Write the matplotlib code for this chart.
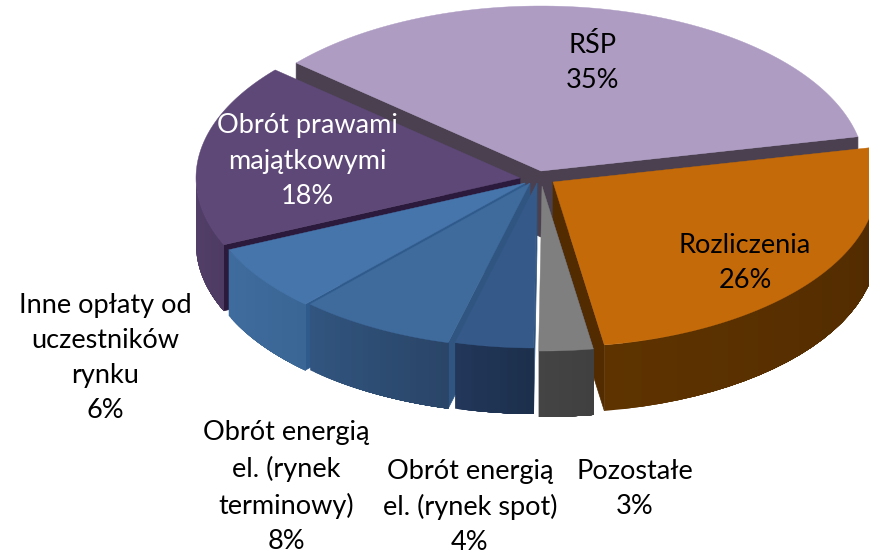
import numpy as np
import matplotlib
matplotlib.use('Agg')
import matplotlib.pyplot as plt
from matplotlib.colors import to_rgb

plt.rcParams['font.family'] = ['Lato', 'DejaVu Sans']

# slices are counter-clockwise from the start angle
names = ['RŚP', 'Obrót prawami\nmajątkowymi', 'Inne opłaty od\nuczestników\nrynku',
         'Obrót energią\nel. (rynek\nterminowy)', 'Obrót energią\nel. (rynek spot)',
         'Pozostałe', 'Rozliczenia']
labels = ['35%', '18%', '6%', '8%', '4%', '3%', '26%']
values = [35.3, 18.0, 6.5, 7.8, 3.9, 2.7, 25.8]

tops = ['#AE9CC3', '#5E4877', '#4675AB', '#3E6A9C', '#355A8A', '#7F7F7F', '#C46A08']
cuts = ['#4A4050', '#2B1A3C', '#2F5A8C', '#2F5580', '#2F5580', '#4A4050', '#522B00']
wall_a = ['#4A4050', '#54406A', '#3F6C9E', '#31557F', '#22375A', '#444444', '#5E3300']
wall_b = ['#4A4050', '#4E3B63', '#3A6695', '#2A4568', '#1C304C', '#404040', '#502A00']
apex = [(541, 171), (520, 178), (525, 183), (530, 183), (537, 183), (542, 186), (553, 182)]
text_pos = [(593, 63), (307, 161), (105, 358), (286, 487), (470, 507), (635, 489), (745, 263)]
text_col = ['black', 'white', 'black', 'black', 'black', 'black', 'black']

start = 12
rx, ry = 324, 165
depth = 66


def rim(c, t):
    t = np.radians(t)
    return np.column_stack([c[0] + rx * np.cos(t), c[1] - ry * np.sin(t)])


fig = plt.figure(figsize=(8.7, 5.55), dpi=100)
ax = fig.add_axes([0, 0, 1, 1])
ax.set_xlim(0, 870)
ax.set_ylim(555, 0)
ax.axis('off')

edges = start + np.concatenate([[0], np.cumsum(values)]) * 3.6
down = np.array([0, depth])

# back to front: rsp, prawami, then blues left to right, rozliczenia, grey on top of it
for i in [0, 1, 2, 3, 4, 6, 5]:
    c = np.array(apex[i], dtype=float)
    t0, t1 = edges[i], edges[i + 1]
    a = rim(c, np.array([t0]))[0]
    b = rim(c, np.array([t1]))[0]

    # cut faces
    if i == 0:
        ax.fill(*zip(c, a, a + down, c + down), color=cuts[i], lw=0.5)
        ax.fill(*zip(c, b, b + down, c + down), color=cuts[i], lw=0.5)
    elif i == 6:
        ax.fill(*zip(c, a, a + down, c + down), color=cuts[i], lw=0.5)
    else:
        ax.fill(*zip(c, b, b + down, c + down), color=cuts[i], lw=0.5)

    # outer wall, only the part facing us, split in strips for the shading
    lo, hi = max(t0, 180), min(t1, 360)
    if i > 0 and hi > lo:
        steps = np.linspace(lo, hi, 25)
        ca, cb = np.array(to_rgb(wall_a[i])), np.array(to_rgb(wall_b[i]))
        for k in range(24):
            # each strip runs to the end of the wall so no seams show
            p = rim(c, steps[k:])
            col = ca + (cb - ca) * k / 23
            poly = np.vstack([p, p[::-1] + down])
            ax.fill(poly[:, 0], poly[:, 1], color=col, lw=0)

    # top
    p = rim(c, np.linspace(t0, t1, 120))
    ax.fill(np.r_[c[0], p[:, 0]], np.r_[c[1], p[:, 1]], color=tops[i], lw=0.3)

for i in range(len(names)):
    ax.text(text_pos[i][0], text_pos[i][1], names[i] + '\n' + labels[i], color=text_col[i],
            ha='center', va='center', fontsize=19.5, linespacing=1.5, zorder=20)

fig.savefig('out.png', dpi=100)
